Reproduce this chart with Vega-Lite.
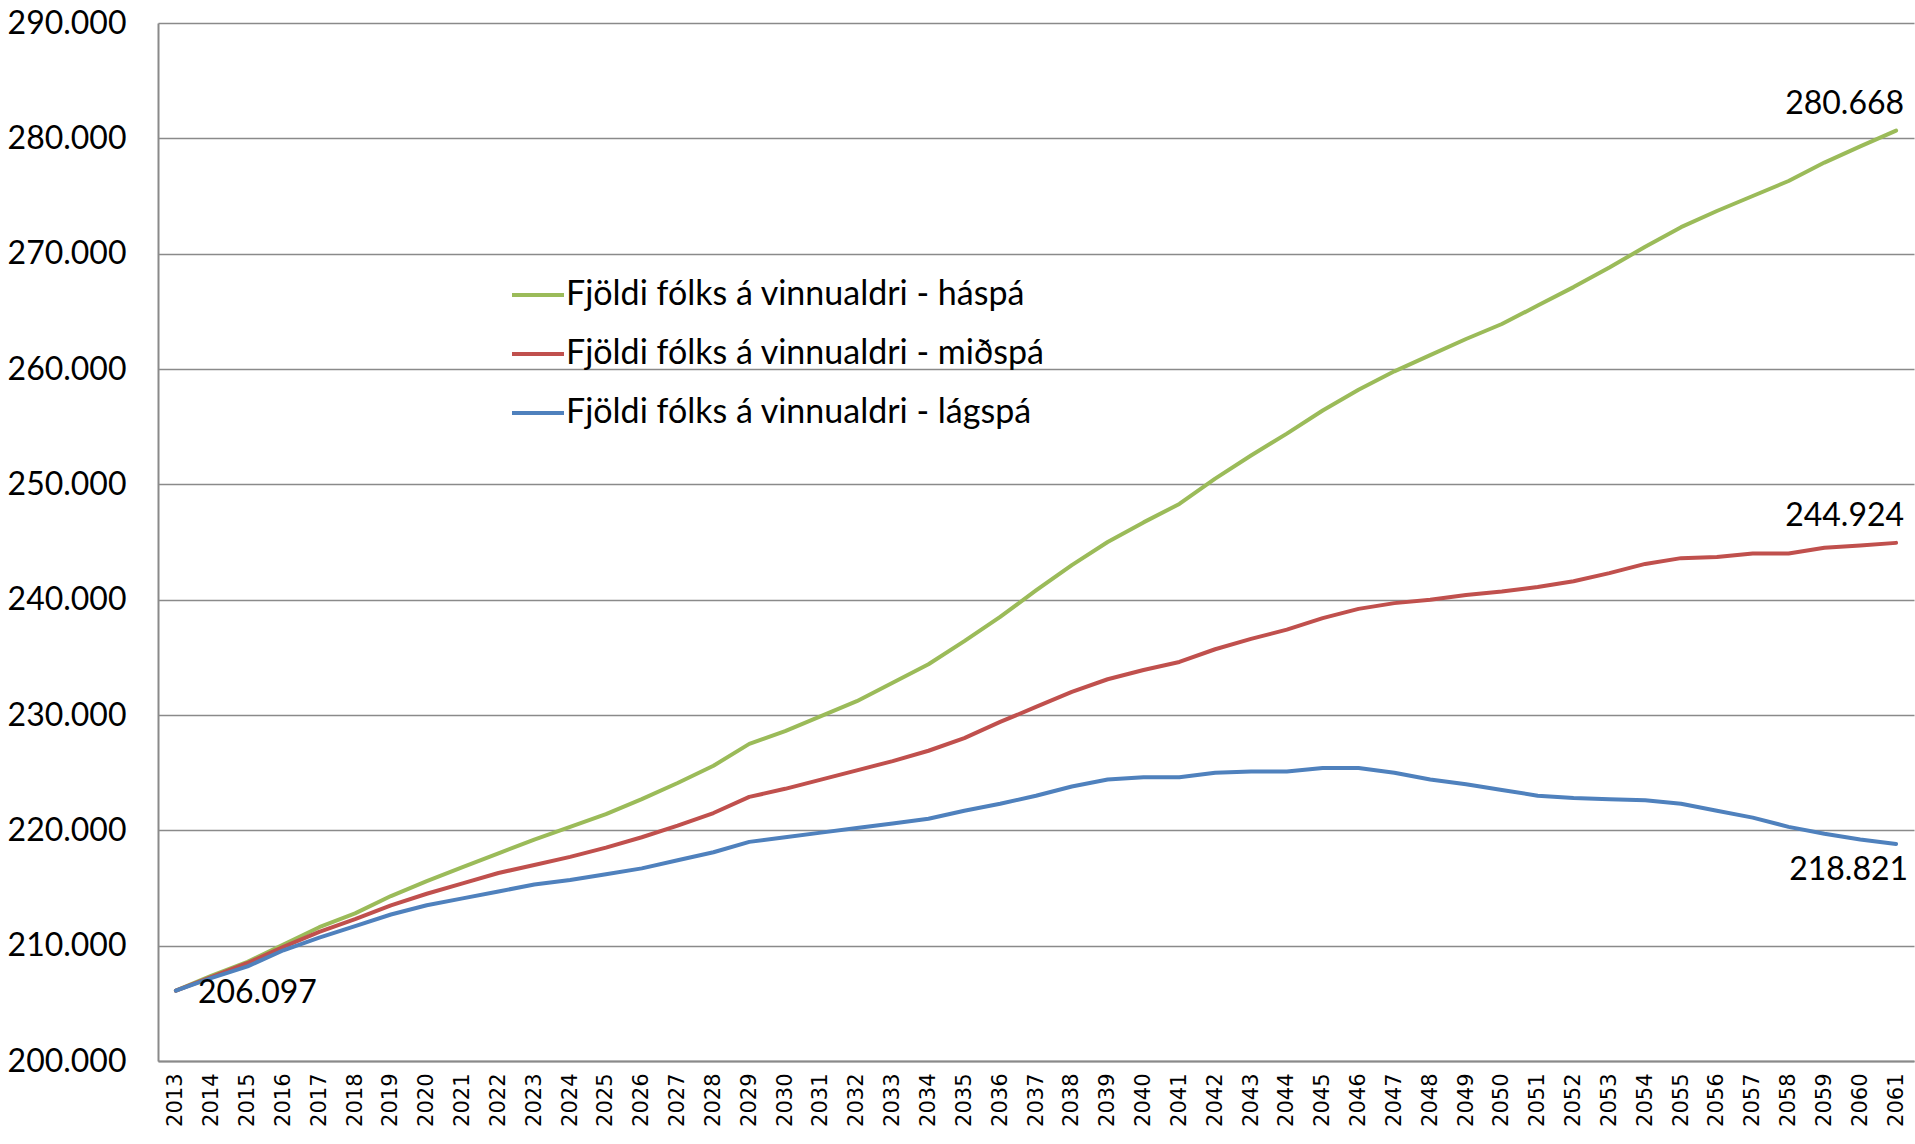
{
  "$schema": "https://vega.github.io/schema/vega-lite/v6.json",
  "width": 1756,
  "height": 1038,
  "autosize": "none",
  "padding": {"left": 158, "top": 23, "right": 1, "bottom": 83},
  "background": "white",
  "config": {
    "locale": {"number": {"decimal": ",", "thousands": ".", "grouping": [3], "currency": ["", ""]}},
    "view": {"stroke": null},
    "font": "Lato"
  },
  "data": {"values": [
    {"year": "2013", "series": "Fjöldi fólks á vinnualdri - háspá", "value": 206097},
    {"year": "2014", "series": "Fjöldi fólks á vinnualdri - háspá", "value": 207400},
    {"year": "2015", "series": "Fjöldi fólks á vinnualdri - háspá", "value": 208600},
    {"year": "2016", "series": "Fjöldi fólks á vinnualdri - háspá", "value": 210100},
    {"year": "2017", "series": "Fjöldi fólks á vinnualdri - háspá", "value": 211600},
    {"year": "2018", "series": "Fjöldi fólks á vinnualdri - háspá", "value": 212800},
    {"year": "2019", "series": "Fjöldi fólks á vinnualdri - háspá", "value": 214300},
    {"year": "2020", "series": "Fjöldi fólks á vinnualdri - háspá", "value": 215600},
    {"year": "2021", "series": "Fjöldi fólks á vinnualdri - háspá", "value": 216800},
    {"year": "2022", "series": "Fjöldi fólks á vinnualdri - háspá", "value": 218000},
    {"year": "2023", "series": "Fjöldi fólks á vinnualdri - háspá", "value": 219200},
    {"year": "2024", "series": "Fjöldi fólks á vinnualdri - háspá", "value": 220300},
    {"year": "2025", "series": "Fjöldi fólks á vinnualdri - háspá", "value": 221400},
    {"year": "2026", "series": "Fjöldi fólks á vinnualdri - háspá", "value": 222700},
    {"year": "2027", "series": "Fjöldi fólks á vinnualdri - háspá", "value": 224100},
    {"year": "2028", "series": "Fjöldi fólks á vinnualdri - háspá", "value": 225600},
    {"year": "2029", "series": "Fjöldi fólks á vinnualdri - háspá", "value": 227500},
    {"year": "2030", "series": "Fjöldi fólks á vinnualdri - háspá", "value": 228600},
    {"year": "2031", "series": "Fjöldi fólks á vinnualdri - háspá", "value": 229900},
    {"year": "2032", "series": "Fjöldi fólks á vinnualdri - háspá", "value": 231200},
    {"year": "2033", "series": "Fjöldi fólks á vinnualdri - háspá", "value": 232800},
    {"year": "2034", "series": "Fjöldi fólks á vinnualdri - háspá", "value": 234400},
    {"year": "2035", "series": "Fjöldi fólks á vinnualdri - háspá", "value": 236400},
    {"year": "2036", "series": "Fjöldi fólks á vinnualdri - háspá", "value": 238500},
    {"year": "2037", "series": "Fjöldi fólks á vinnualdri - háspá", "value": 240800},
    {"year": "2038", "series": "Fjöldi fólks á vinnualdri - háspá", "value": 243000},
    {"year": "2039", "series": "Fjöldi fólks á vinnualdri - háspá", "value": 245000},
    {"year": "2040", "series": "Fjöldi fólks á vinnualdri - háspá", "value": 246700},
    {"year": "2041", "series": "Fjöldi fólks á vinnualdri - háspá", "value": 248300},
    {"year": "2042", "series": "Fjöldi fólks á vinnualdri - háspá", "value": 250500},
    {"year": "2043", "series": "Fjöldi fólks á vinnualdri - háspá", "value": 252500},
    {"year": "2044", "series": "Fjöldi fólks á vinnualdri - háspá", "value": 254400},
    {"year": "2045", "series": "Fjöldi fólks á vinnualdri - háspá", "value": 256400},
    {"year": "2046", "series": "Fjöldi fólks á vinnualdri - háspá", "value": 258200},
    {"year": "2047", "series": "Fjöldi fólks á vinnualdri - háspá", "value": 259800},
    {"year": "2048", "series": "Fjöldi fólks á vinnualdri - háspá", "value": 261200},
    {"year": "2049", "series": "Fjöldi fólks á vinnualdri - háspá", "value": 262600},
    {"year": "2050", "series": "Fjöldi fólks á vinnualdri - háspá", "value": 263900},
    {"year": "2051", "series": "Fjöldi fólks á vinnualdri - háspá", "value": 265500},
    {"year": "2052", "series": "Fjöldi fólks á vinnualdri - háspá", "value": 267100},
    {"year": "2053", "series": "Fjöldi fólks á vinnualdri - háspá", "value": 268800},
    {"year": "2054", "series": "Fjöldi fólks á vinnualdri - háspá", "value": 270600},
    {"year": "2055", "series": "Fjöldi fólks á vinnualdri - háspá", "value": 272300},
    {"year": "2056", "series": "Fjöldi fólks á vinnualdri - háspá", "value": 273700},
    {"year": "2057", "series": "Fjöldi fólks á vinnualdri - háspá", "value": 275000},
    {"year": "2058", "series": "Fjöldi fólks á vinnualdri - háspá", "value": 276300},
    {"year": "2059", "series": "Fjöldi fólks á vinnualdri - háspá", "value": 277900},
    {"year": "2060", "series": "Fjöldi fólks á vinnualdri - háspá", "value": 279300},
    {"year": "2061", "series": "Fjöldi fólks á vinnualdri - háspá", "value": 280668},
    {"year": "2013", "series": "Fjöldi fólks á vinnualdri - miðspá", "value": 206097},
    {"year": "2014", "series": "Fjöldi fólks á vinnualdri - miðspá", "value": 207300},
    {"year": "2015", "series": "Fjöldi fólks á vinnualdri - miðspá", "value": 208500},
    {"year": "2016", "series": "Fjöldi fólks á vinnualdri - miðspá", "value": 209900},
    {"year": "2017", "series": "Fjöldi fólks á vinnualdri - miðspá", "value": 211200},
    {"year": "2018", "series": "Fjöldi fólks á vinnualdri - miðspá", "value": 212300},
    {"year": "2019", "series": "Fjöldi fólks á vinnualdri - miðspá", "value": 213500},
    {"year": "2020", "series": "Fjöldi fólks á vinnualdri - miðspá", "value": 214500},
    {"year": "2021", "series": "Fjöldi fólks á vinnualdri - miðspá", "value": 215400},
    {"year": "2022", "series": "Fjöldi fólks á vinnualdri - miðspá", "value": 216300},
    {"year": "2023", "series": "Fjöldi fólks á vinnualdri - miðspá", "value": 217000},
    {"year": "2024", "series": "Fjöldi fólks á vinnualdri - miðspá", "value": 217700},
    {"year": "2025", "series": "Fjöldi fólks á vinnualdri - miðspá", "value": 218500},
    {"year": "2026", "series": "Fjöldi fólks á vinnualdri - miðspá", "value": 219400},
    {"year": "2027", "series": "Fjöldi fólks á vinnualdri - miðspá", "value": 220400},
    {"year": "2028", "series": "Fjöldi fólks á vinnualdri - miðspá", "value": 221500},
    {"year": "2029", "series": "Fjöldi fólks á vinnualdri - miðspá", "value": 222900},
    {"year": "2030", "series": "Fjöldi fólks á vinnualdri - miðspá", "value": 223600},
    {"year": "2031", "series": "Fjöldi fólks á vinnualdri - miðspá", "value": 224400},
    {"year": "2032", "series": "Fjöldi fólks á vinnualdri - miðspá", "value": 225200},
    {"year": "2033", "series": "Fjöldi fólks á vinnualdri - miðspá", "value": 226000},
    {"year": "2034", "series": "Fjöldi fólks á vinnualdri - miðspá", "value": 226900},
    {"year": "2035", "series": "Fjöldi fólks á vinnualdri - miðspá", "value": 228000},
    {"year": "2036", "series": "Fjöldi fólks á vinnualdri - miðspá", "value": 229400},
    {"year": "2037", "series": "Fjöldi fólks á vinnualdri - miðspá", "value": 230700},
    {"year": "2038", "series": "Fjöldi fólks á vinnualdri - miðspá", "value": 232000},
    {"year": "2039", "series": "Fjöldi fólks á vinnualdri - miðspá", "value": 233100},
    {"year": "2040", "series": "Fjöldi fólks á vinnualdri - miðspá", "value": 233900},
    {"year": "2041", "series": "Fjöldi fólks á vinnualdri - miðspá", "value": 234600},
    {"year": "2042", "series": "Fjöldi fólks á vinnualdri - miðspá", "value": 235700},
    {"year": "2043", "series": "Fjöldi fólks á vinnualdri - miðspá", "value": 236600},
    {"year": "2044", "series": "Fjöldi fólks á vinnualdri - miðspá", "value": 237400},
    {"year": "2045", "series": "Fjöldi fólks á vinnualdri - miðspá", "value": 238400},
    {"year": "2046", "series": "Fjöldi fólks á vinnualdri - miðspá", "value": 239200},
    {"year": "2047", "series": "Fjöldi fólks á vinnualdri - miðspá", "value": 239700},
    {"year": "2048", "series": "Fjöldi fólks á vinnualdri - miðspá", "value": 240000},
    {"year": "2049", "series": "Fjöldi fólks á vinnualdri - miðspá", "value": 240400},
    {"year": "2050", "series": "Fjöldi fólks á vinnualdri - miðspá", "value": 240700},
    {"year": "2051", "series": "Fjöldi fólks á vinnualdri - miðspá", "value": 241100},
    {"year": "2052", "series": "Fjöldi fólks á vinnualdri - miðspá", "value": 241600},
    {"year": "2053", "series": "Fjöldi fólks á vinnualdri - miðspá", "value": 242300},
    {"year": "2054", "series": "Fjöldi fólks á vinnualdri - miðspá", "value": 243100},
    {"year": "2055", "series": "Fjöldi fólks á vinnualdri - miðspá", "value": 243600},
    {"year": "2056", "series": "Fjöldi fólks á vinnualdri - miðspá", "value": 243700},
    {"year": "2057", "series": "Fjöldi fólks á vinnualdri - miðspá", "value": 244000},
    {"year": "2058", "series": "Fjöldi fólks á vinnualdri - miðspá", "value": 244000},
    {"year": "2059", "series": "Fjöldi fólks á vinnualdri - miðspá", "value": 244500},
    {"year": "2060", "series": "Fjöldi fólks á vinnualdri - miðspá", "value": 244700},
    {"year": "2061", "series": "Fjöldi fólks á vinnualdri - miðspá", "value": 244924},
    {"year": "2013", "series": "Fjöldi fólks á vinnualdri - lágspá", "value": 206097},
    {"year": "2014", "series": "Fjöldi fólks á vinnualdri - lágspá", "value": 207200},
    {"year": "2015", "series": "Fjöldi fólks á vinnualdri - lágspá", "value": 208200},
    {"year": "2016", "series": "Fjöldi fólks á vinnualdri - lágspá", "value": 209600},
    {"year": "2017", "series": "Fjöldi fólks á vinnualdri - lágspá", "value": 210700},
    {"year": "2018", "series": "Fjöldi fólks á vinnualdri - lágspá", "value": 211700},
    {"year": "2019", "series": "Fjöldi fólks á vinnualdri - lágspá", "value": 212700},
    {"year": "2020", "series": "Fjöldi fólks á vinnualdri - lágspá", "value": 213500},
    {"year": "2021", "series": "Fjöldi fólks á vinnualdri - lágspá", "value": 214100},
    {"year": "2022", "series": "Fjöldi fólks á vinnualdri - lágspá", "value": 214700},
    {"year": "2023", "series": "Fjöldi fólks á vinnualdri - lágspá", "value": 215300},
    {"year": "2024", "series": "Fjöldi fólks á vinnualdri - lágspá", "value": 215700},
    {"year": "2025", "series": "Fjöldi fólks á vinnualdri - lágspá", "value": 216200},
    {"year": "2026", "series": "Fjöldi fólks á vinnualdri - lágspá", "value": 216700},
    {"year": "2027", "series": "Fjöldi fólks á vinnualdri - lágspá", "value": 217400},
    {"year": "2028", "series": "Fjöldi fólks á vinnualdri - lágspá", "value": 218100},
    {"year": "2029", "series": "Fjöldi fólks á vinnualdri - lágspá", "value": 219000},
    {"year": "2030", "series": "Fjöldi fólks á vinnualdri - lágspá", "value": 219400},
    {"year": "2031", "series": "Fjöldi fólks á vinnualdri - lágspá", "value": 219800},
    {"year": "2032", "series": "Fjöldi fólks á vinnualdri - lágspá", "value": 220200},
    {"year": "2033", "series": "Fjöldi fólks á vinnualdri - lágspá", "value": 220600},
    {"year": "2034", "series": "Fjöldi fólks á vinnualdri - lágspá", "value": 221000},
    {"year": "2035", "series": "Fjöldi fólks á vinnualdri - lágspá", "value": 221700},
    {"year": "2036", "series": "Fjöldi fólks á vinnualdri - lágspá", "value": 222300},
    {"year": "2037", "series": "Fjöldi fólks á vinnualdri - lágspá", "value": 223000},
    {"year": "2038", "series": "Fjöldi fólks á vinnualdri - lágspá", "value": 223800},
    {"year": "2039", "series": "Fjöldi fólks á vinnualdri - lágspá", "value": 224400},
    {"year": "2040", "series": "Fjöldi fólks á vinnualdri - lágspá", "value": 224600},
    {"year": "2041", "series": "Fjöldi fólks á vinnualdri - lágspá", "value": 224600},
    {"year": "2042", "series": "Fjöldi fólks á vinnualdri - lágspá", "value": 225000},
    {"year": "2043", "series": "Fjöldi fólks á vinnualdri - lágspá", "value": 225100},
    {"year": "2044", "series": "Fjöldi fólks á vinnualdri - lágspá", "value": 225100},
    {"year": "2045", "series": "Fjöldi fólks á vinnualdri - lágspá", "value": 225400},
    {"year": "2046", "series": "Fjöldi fólks á vinnualdri - lágspá", "value": 225400},
    {"year": "2047", "series": "Fjöldi fólks á vinnualdri - lágspá", "value": 225000},
    {"year": "2048", "series": "Fjöldi fólks á vinnualdri - lágspá", "value": 224400},
    {"year": "2049", "series": "Fjöldi fólks á vinnualdri - lágspá", "value": 224000},
    {"year": "2050", "series": "Fjöldi fólks á vinnualdri - lágspá", "value": 223500},
    {"year": "2051", "series": "Fjöldi fólks á vinnualdri - lágspá", "value": 223000},
    {"year": "2052", "series": "Fjöldi fólks á vinnualdri - lágspá", "value": 222800},
    {"year": "2053", "series": "Fjöldi fólks á vinnualdri - lágspá", "value": 222700},
    {"year": "2054", "series": "Fjöldi fólks á vinnualdri - lágspá", "value": 222600},
    {"year": "2055", "series": "Fjöldi fólks á vinnualdri - lágspá", "value": 222300},
    {"year": "2056", "series": "Fjöldi fólks á vinnualdri - lágspá", "value": 221700},
    {"year": "2057", "series": "Fjöldi fólks á vinnualdri - lágspá", "value": 221100},
    {"year": "2058", "series": "Fjöldi fólks á vinnualdri - lágspá", "value": 220300},
    {"year": "2059", "series": "Fjöldi fólks á vinnualdri - lágspá", "value": 219700},
    {"year": "2060", "series": "Fjöldi fólks á vinnualdri - lágspá", "value": 219200},
    {"year": "2061", "series": "Fjöldi fólks á vinnualdri - lágspá", "value": 218821}
  ]},
  "encoding": {
    "x": {
      "field": "year", "type": "ordinal",
      "scale": {"type": "point", "padding": 0.5},
      "axis": {
        "title": null, "labelAngle": -90, "labelFont": "DejaVu Sans", "labelFontSize": 21,
        "labelColor": "black", "labelPadding": 12, "ticks": false,
        "domainColor": "#8a8a8a", "domainWidth": 2, "grid": false
      }
    },
    "y": {
      "field": "value", "type": "quantitative",
      "scale": {"domain": [200000, 290000], "nice": false, "zero": false},
      "axis": {
        "title": null, "values": [200000, 210000, 220000, 230000, 240000, 250000, 260000, 270000, 280000, 290000],
        "format": ",.0f", "labelFont": "Lato", "labelFontSize": 32, "labelColor": "black",
        "labelPadding": 32, "ticks": false, "domainColor": "#8a8a8a", "domainWidth": 2,
        "gridColor": "#8a8a8a", "gridWidth": 1.5, "gridOpacity": 1
      }
    }
  },
  "layer": [
    {
      "mark": {"type": "line", "strokeWidth": 4, "strokeCap": "round", "strokeJoin": "round"},
      "encoding": {
        "color": {
          "field": "series", "type": "nominal",
          "scale": {
            "domain": ["Fjöldi fólks á vinnualdri - háspá", "Fjöldi fólks á vinnualdri - miðspá", "Fjöldi fólks á vinnualdri - lágspá"],
            "range": ["#9BBB59", "#C0504D", "#4F81BD"]
          },
          "legend": {
            "title": null, "orient": "none", "legendX": 352, "legendY": 244,
            "direction": "vertical",
            "symbolType": "stroke", "symbolSize": 2704, "symbolStrokeWidth": 4,
            "labelFont": "Lato", "labelFontSize": 34, "labelColor": "black",
            "labelOffset": 0, "rowPadding": 14, "padding": 0, "labelLimit": 0
          }
        },
        "order": {"field": "year"}
      }
    },
    {
      "transform": [{"filter": "datum.year == '2013' && datum.series == 'Fjöldi fólks á vinnualdri - lágspá'"}],
      "mark": {"type": "text", "align": "left", "baseline": "middle", "dx": 22, "dy": 2, "font": "Lato", "fontSize": 32, "color": "black"},
      "encoding": {"text": {"field": "value", "type": "quantitative", "format": ",.0f"}}
    },
    {
      "transform": [{"filter": "datum.year == '2061' && datum.series != 'Fjöldi fólks á vinnualdri - lágspá'"}],
      "mark": {"type": "text", "align": "right", "baseline": "middle", "dx": 8, "dy": -27, "font": "Lato", "fontSize": 32, "color": "black"},
      "encoding": {"text": {"field": "value", "type": "quantitative", "format": ",.0f"}}
    },
    {
      "transform": [{"filter": "datum.year == '2061' && datum.series == 'Fjöldi fólks á vinnualdri - lágspá'"}],
      "mark": {"type": "text", "align": "right", "baseline": "middle", "dx": 12, "dy": 26, "font": "Lato", "fontSize": 32, "color": "black"},
      "encoding": {"text": {"field": "value", "type": "quantitative", "format": ",.0f"}}
    }
  ]
}
